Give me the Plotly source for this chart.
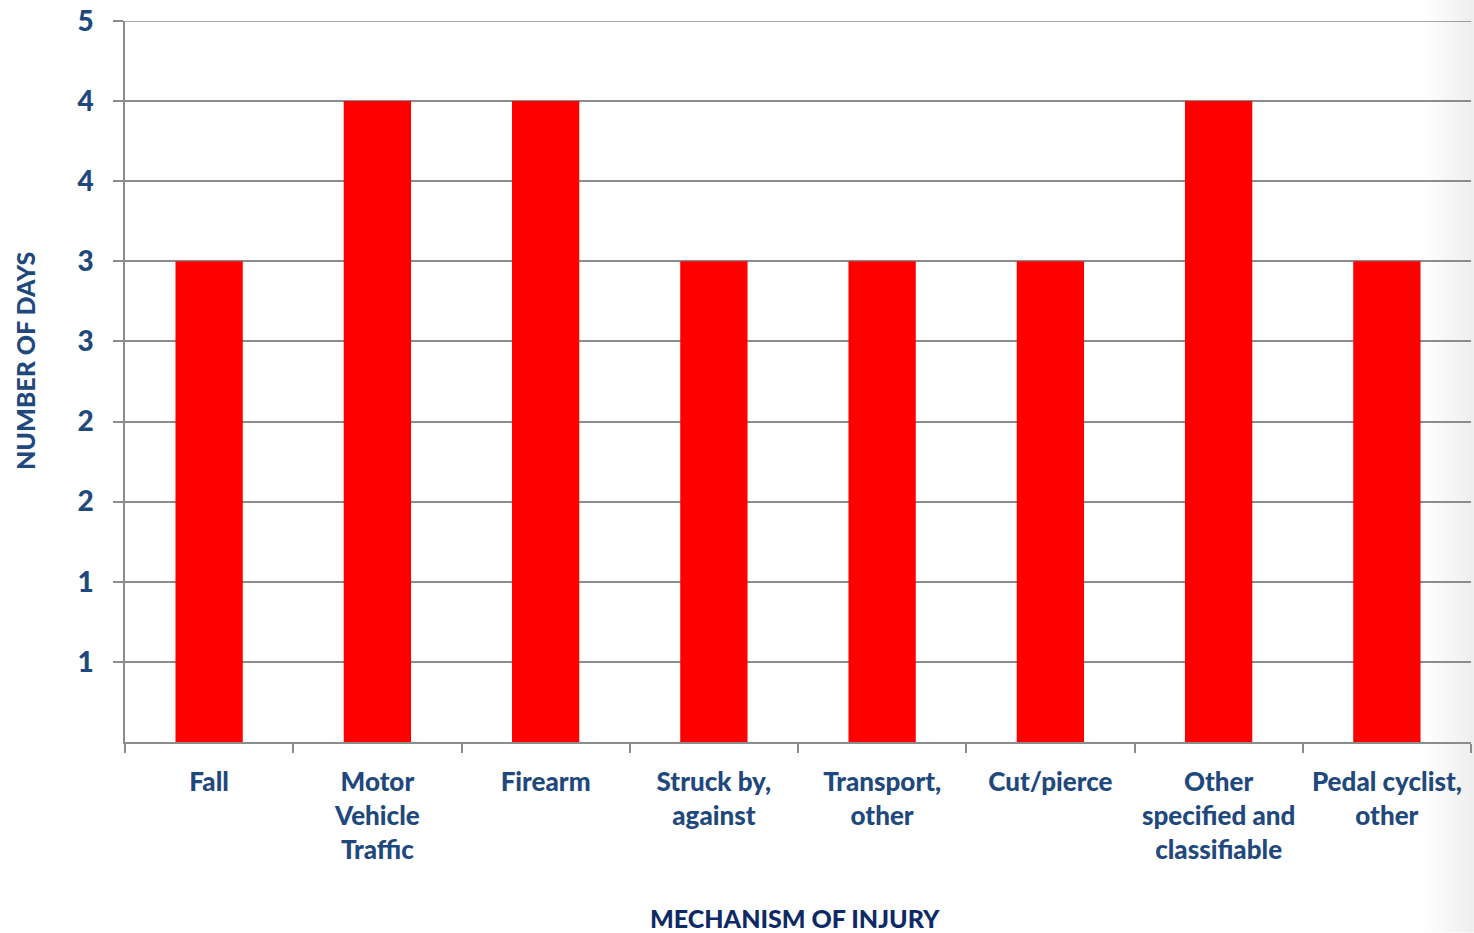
import plotly.graph_objects as go
import math

# Mechanism of injury categories and median length of stay (days)
categories = [
    "Fall",
    "Motor<br>Vehicle<br>Traffic",
    "Firearm",
    "Struck by,<br>against",
    "Transport,<br>other",
    "Cut/pierce",
    "Other<br>specified and<br>classifiable",
    "Pedal cyclist,<br>other",
]
days = [3, 4, 4, 3, 3, 3, 4, 3]

# Value axis ticks every half day, labelled as whole numbers (half rounds up)
y_ticks = [0.5, 1.0, 1.5, 2.0, 2.5, 3.0, 3.5, 4.0, 4.5]
y_tick_text = [str(int(math.floor(v + 0.5))) for v in y_ticks]
y_max = 4.5

W, H = 1474, 933
L, R, T, B = 125, 3, 19, 191

label_color = "#1F497D"
title_color = "#0E2A66"
grid_color = "#8C8C8C"
font_family = "Lato, 'Open Sans', sans-serif"

fig = go.Figure(
    go.Bar(
        x=categories,
        y=days,
        marker=dict(color="#FF0000", line=dict(width=0)),
        width=0.4,
    )
)

fig.update_layout(
    width=W,
    height=H,
    margin=dict(l=L, r=R, t=T, b=B),
    paper_bgcolor="white",
    plot_bgcolor="rgba(0,0,0,0)",
    showlegend=False,
    font=dict(family=font_family, color=label_color),
)

fig.update_xaxes(
    type="category",
    tickson="boundaries",
    ticks="outside",
    ticklen=9,
    tickwidth=1.5,
    tickcolor=grid_color,
    showline=True,
    linecolor=grid_color,
    linewidth=1.5,
    showgrid=False,
    tickfont=dict(family=font_family, size=26, color=label_color, weight=900),
    tickangle=0,
    ticklabelstandoff=16,
)

fig.update_yaxes(
    range=[0, y_max],
    tickvals=y_ticks,
    ticktext=y_tick_text,
    ticks="outside",
    ticklen=10,
    tickwidth=1.5,
    tickcolor=grid_color,
    showline=True,
    linecolor=grid_color,
    linewidth=1.5,
    showgrid=True,
    gridcolor=grid_color,
    gridwidth=1.5,
    zeroline=False,
    tickfont=dict(family=font_family, size=28, color=label_color, weight=900),
    ticklabelstandoff=14,
)

# Gridline along the top of the value range
fig.add_shape(
    type="line", xref="paper", yref="y",
    x0=0, x1=1, y0=y_max, y1=y_max,
    line=dict(color=grid_color, width=1.5), layer="below",
)

plot_h = H - T - B
plot_w = W - L - R

# Axis titles
fig.add_annotation(
    text="MECHANISM OF INJURY",
    xref="paper", yref="paper",
    x=(795 - L) / plot_w, y=-(918 - (H - B)) / plot_h,
    xanchor="center", yanchor="middle",
    showarrow=False,
    font=dict(family=font_family, size=25, color=title_color, weight=900),
)
fig.add_annotation(
    text="NUMBER OF DAYS",
    xref="paper", yref="paper",
    x=(25 - L) / plot_w, y=(H - B - 360) / plot_h,
    xanchor="center", yanchor="middle",
    textangle=-90,
    showarrow=False,
    font=dict(family=font_family, size=25, color=label_color, weight=900),
)

# Soft grey shading along the right edge of the page
steps = 8
for i in range(steps):
    x0 = (W - 48 + i * 6 - L) / plot_w
    fig.add_shape(
        type="rect", xref="paper", yref="paper",
        x0=x0, x1=(W - L) / plot_w,
        y0=-(B) / plot_h, y1=(H - B) / plot_h + T / plot_h,
        fillcolor="rgba(0,0,0,0.006)", line=dict(width=0), layer="below",
    )

fig.write_html("out.html")
